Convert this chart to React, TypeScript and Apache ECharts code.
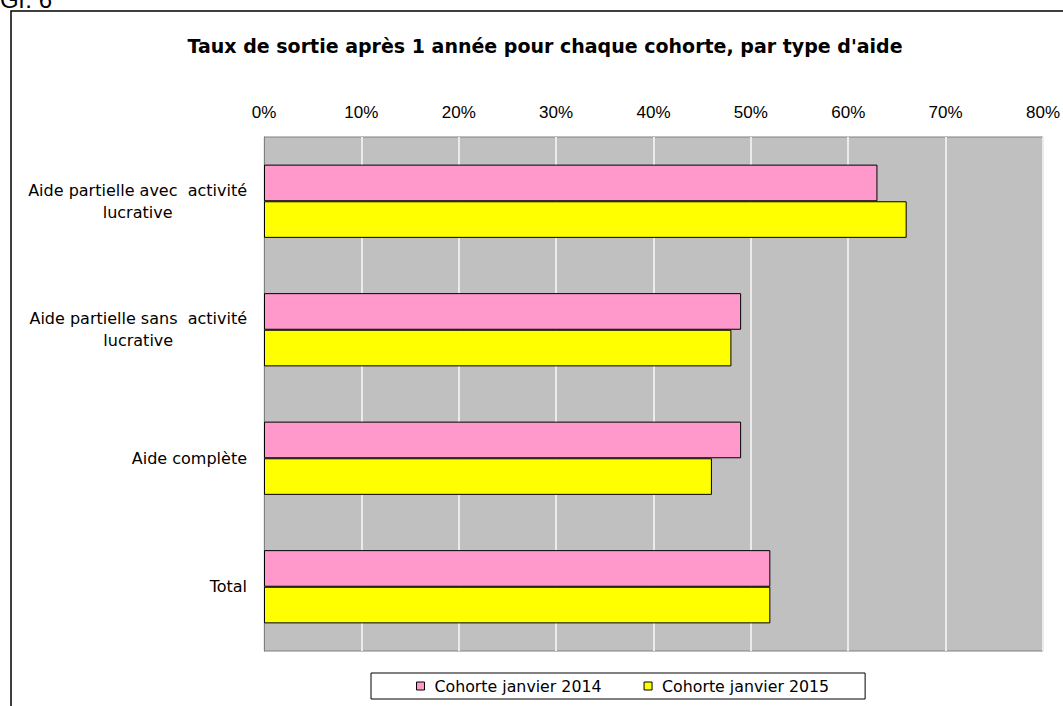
import React, { useEffect, useRef } from "react";
import * as echarts from "echarts";

const categories = [
  "Aide partielle avec  activité\nlucrative",
  "Aide partielle sans  activité\nlucrative",
  "Aide complète",
  "Total",
];
const seriesNames = ["Cohorte janvier 2014", "Cohorte janvier 2015"];
const values2014 = [63, 49, 49, 52];
const values2015 = [66, 48, 46, 52];
const colors = ["#FF99CC", "#FFFF00"];
const title = "Taux de sortie après 1 année pour chaque cohorte, par type d'aide";

export default function App() {
  const ref = useRef<HTMLDivElement>(null);
  useEffect(() => {
    if (!ref.current) return;
    const chart = echarts.init(ref.current, undefined, { renderer: "svg" });
    chart.setOption({
      animation: false,
      backgroundColor: "#ffffff",
      title: {
        text: title,
        left: 540,
        textAlign: "center",
        top: 31,
        textStyle: { fontFamily: "DejaVu Sans", fontSize: 19, fontWeight: "bold", color: "#000" },
      },
      graphic: [
        {
          type: "rect",
          shape: { x: 11, y: 11, width: 1070, height: 720 },
          style: { fill: "none", stroke: "#000", lineWidth: 1.5 },
          silent: true,
        },
        {
          type: "text",
          x: 0,
          y: -13,
          style: { text: "Gr. 6", fontFamily: "Liberation Sans", fontSize: 24, fill: "#000" },
        },
      ],
      legend: {
        data: seriesNames,
        left: 371,
        top: 673,
        orient: "horizontal",
        icon: "rect",
        itemWidth: 8,
        itemHeight: 8,
        itemGap: 42,
        padding: [5, 36, 5, 45],
        borderColor: "#000",
        borderWidth: 1,
        itemStyle: { borderColor: "#000", borderWidth: 1 },
        textStyle: { fontFamily: "DejaVu Sans", fontSize: 15.8, color: "#000", padding: [0, 0, 0, 5] },
      },
      grid: {
        left: 264,
        right: 19,
        top: 137,
        bottom: 55,
        show: true,
        backgroundColor: "#C0C0C0",
        borderColor: "#808080",
        borderWidth: 1,
      },
      xAxis: {
        type: "value",
        position: "top",
        min: 0,
        max: 80,
        interval: 10,
        axisLine: { show: false },
        axisTick: { show: false },
        axisLabel: {
          formatter: "{value}%",
          margin: 16,
          fontFamily: "Liberation Sans",
          fontSize: 17,
          color: "#000",
        },
        splitLine: { show: true, lineStyle: { color: "#EBEBEB", width: 2 } },
      },
      yAxis: {
        type: "category",
        data: categories,
        inverse: true,
        axisLine: { show: true, lineStyle: { color: "#808080" } },
        axisTick: { show: false },
        axisLabel: {
          margin: 17,
          color: "#000",
          fontFamily: "DejaVu Sans",
          fontSize: 16,
          lineHeight: 22,
          formatter: (v: string) =>
            v
              .split("\n")
              .map((l) => `{c|${l}}`)
              .join("\n"),
          rich: {
            c: { align: "center", fontFamily: "DejaVu Sans", fontSize: 16, lineHeight: 22, color: "#000" },
          },
        },
      },
      series: [
        {
          name: seriesNames[0],
          type: "bar",
          data: values2014,
          barGap: "0%",
          barCategoryGap: "43%",
          itemStyle: { color: colors[0], borderColor: "#000", borderWidth: 1 },
        },
        {
          name: seriesNames[1],
          type: "bar",
          data: values2015,
          barGap: "0%",
          barCategoryGap: "43%",
          itemStyle: { color: colors[1], borderColor: "#000", borderWidth: 1 },
        },
      ],
    });
    return () => chart.dispose();
  }, []);
  return (
    <div
      ref={ref}
      style={{ position: "absolute", left: 0, top: 0, width: 1063, height: 706 }}
    />
  );
}
